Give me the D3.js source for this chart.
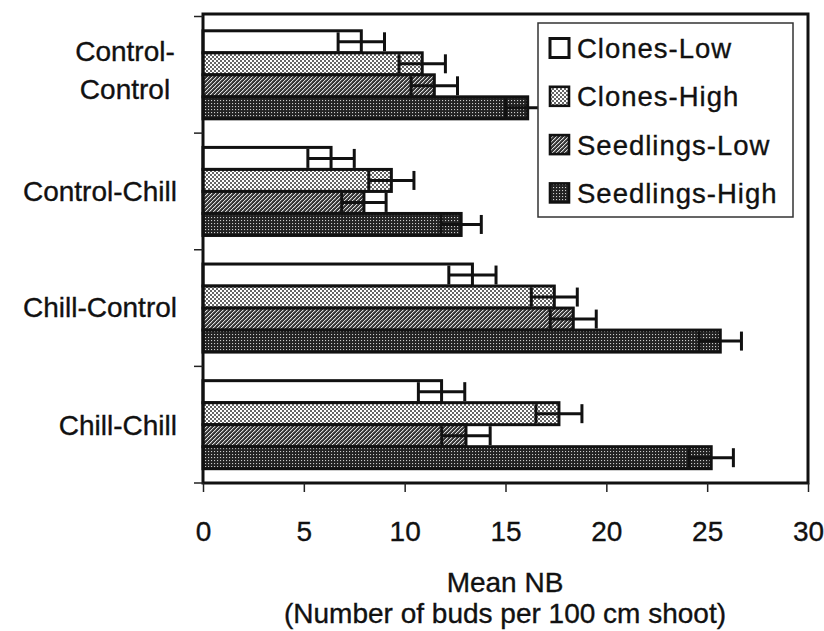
<!DOCTYPE html>
<html>
<head>
<meta charset="utf-8">
<script src="https://cdn.jsdelivr.net/npm/d3@7"></script>
<style>
  body { margin: 0; background: #fff; }
  text { font-family: "Liberation Sans", Arial, sans-serif; fill: #111; stroke: #111; stroke-width: 0.35px; }
</style>
</head>
<body>
<div id="chart"></div>
<script>
// Data
const categories = ["Control-Control", "Control-Chill", "Chill-Control", "Chill-Chill"];
const categoryLines = [["Control-", "Control"], ["Control-Chill"], ["Chill-Control"], ["Chill-Chill"]];
const series = ["Clones-Low", "Clones-High", "Seedlings-Low", "Seedlings-High"];

const clonesLow = [7.85, 6.35, 13.36, 11.83];
const clonesHigh = [10.87, 9.34, 17.42, 17.65];
const seedlingsLow = [11.47, 7.98, 18.36, 13.04];
const seedlingsHigh = [16.1, 12.8, 25.65, 25.2];

const clonesLowErr = [1.15, 1.15, 1.17, 1.15];
const clonesHighErr = [1.15, 1.12, 1.14, 1.14];
const seedlingsLowErr = [1.15, 1.1, 1.14, 1.2];
const seedlingsHighErr = [1.1, 1.0, 1.05, 1.1];

const xTicks = [0, 5, 10, 15, 20, 25, 30];

const values = [clonesLow, clonesHigh, seedlingsLow, seedlingsHigh];
const errors = [clonesLowErr, clonesHighErr, seedlingsLowErr, seedlingsHighErr];

const W = 824, H = 631;
const plot = { left: 203, right: 808, top: 16.5, bottom: 483, frameTop: 14 };

const svg = d3.select("#chart")
    .append("svg")
    .attr("width", W)
    .attr("height", H);

// fill patterns, one per series
const defs = svg.append("defs");

defs.append("pattern").attr("id", "p0")
    .attr("patternUnits", "userSpaceOnUse").attr("width", 4).attr("height", 4)
    .append("rect").attr("width", 4).attr("height", 4).attr("fill", "#fff");

const p1 = defs.append("pattern").attr("id", "p1")
    .attr("patternUnits", "userSpaceOnUse").attr("width", 4).attr("height", 4);
p1.append("rect").attr("width", 4).attr("height", 4).attr("fill", "#fff");
p1.append("rect").attr("width", 2).attr("height", 2).attr("fill", "#666");
p1.append("rect").attr("x", 2).attr("y", 2).attr("width", 2).attr("height", 2).attr("fill", "#666");

const p2 = defs.append("pattern").attr("id", "p2")
    .attr("patternUnits", "userSpaceOnUse").attr("width", 4).attr("height", 4);
p2.append("rect").attr("width", 4).attr("height", 4).attr("fill", "#333");
[[0, 0], [2, 2], [1, 3], [3, 1]].forEach(([a, b]) =>
    p2.append("rect").attr("x", a).attr("y", b).attr("width", 1.2).attr("height", 1.2).attr("fill", "#ddd"));

const p3 = defs.append("pattern").attr("id", "p3")
    .attr("patternUnits", "userSpaceOnUse").attr("width", 3).attr("height", 3);
p3.append("rect").attr("width", 3).attr("height", 3).attr("fill", "#222");
p3.append("rect").attr("x", 1).attr("y", 1).attr("width", 1.1).attr("height", 1.1).attr("fill", "#ccc");

// Scales
const x = d3.scaleLinear().domain([0, 30]).range([plot.left, plot.right]);

const y = d3.scaleBand()
    .domain(categories)
    .range([plot.top, plot.bottom])
    .paddingInner(0.245)
    .paddingOuter(0.1225);

const ySub = d3.scaleBand()
    .domain(series)
    .range([0, y.bandwidth()]);

// Bars
const barData = [];
categories.forEach((c, ci) => {
    series.forEach((s, si) => {
        barData.push({ cat: c, ser: s, si: si, v: values[si][ci], e: errors[si][ci] });
    });
});

svg.append("g")
    .selectAll("rect")
    .data(barData)
    .join("rect")
    .attr("x", x(0))
    .attr("y", d => y(d.cat) + ySub(d.ser))
    .attr("width", d => x(d.v) - x(0))
    .attr("height", ySub.bandwidth())
    .attr("fill", d => `url(#p${d.si})`)
    .attr("stroke", "#111")
    .attr("stroke-width", 3);

// Error bars
const err = svg.append("g")
    .attr("stroke", "#111")
    .attr("stroke-width", 3);

barData.forEach(d => {
    const cy = y(d.cat) + ySub(d.ser) + ySub.bandwidth() / 2;
    const x0 = x(d.v - d.e), x1 = x(d.v + d.e);
    const capH = 9.5;
    err.append("line").attr("x1", x0).attr("x2", x1).attr("y1", cy).attr("y2", cy);
    err.append("line").attr("x1", x0).attr("x2", x0).attr("y1", cy - capH).attr("y2", cy + capH);
    err.append("line").attr("x1", x1).attr("x2", x1).attr("y1", cy - capH).attr("y2", cy + capH);
});

// Frame
svg.append("rect")
    .attr("x", plot.left)
    .attr("y", plot.frameTop)
    .attr("width", plot.right - plot.left)
    .attr("height", plot.bottom - plot.frameTop)
    .attr("fill", "none")
    .attr("stroke", "#111")
    .attr("stroke-width", 3);

// x axis ticks and labels
const xAxis = svg.append("g")
    .attr("transform", `translate(0,${plot.bottom})`)
    .call(d3.axisBottom(x).tickValues(xTicks).tickSize(9).tickPadding(29).tickFormat(d3.format("d")));
xAxis.select(".domain").remove();
xAxis.selectAll(".tick line").attr("stroke", "#222").attr("stroke-width", 1.5);
xAxis.selectAll(".tick text")
    .style("font-family", '"Liberation Sans", Arial, sans-serif')
    .style("font-size", "28px")
    .attr("fill", "#111");

// y axis ticks at band boundaries
const step = (plot.bottom - plot.top) / categories.length;
const yBounds = d3.range(categories.length + 1).map(i => plot.top + i * step);
svg.append("g")
    .selectAll("line")
    .data(yBounds)
    .join("line")
    .attr("x1", plot.left - 9)
    .attr("x2", plot.left)
    .attr("y1", d => d)
    .attr("y2", d => d)
    .attr("stroke", "#222")
    .attr("stroke-width", 1.5);

// Category labels
const catG = svg.append("g")
    .style("font-size", "28px");
const baselineOffset = [0, 10, 9, 10];
categories.forEach((c, ci) => {
    const lines = categoryLines[ci];
    const cy = y(c) + y.bandwidth() / 2;
    if (lines.length === 1) {
        catG.append("text")
            .attr("x", 177)
            .attr("y", cy + baselineOffset[ci])
            .attr("text-anchor", "end")
            .text(lines[0]);
    } else {
        const t = catG.append("text").attr("text-anchor", "middle");
        lines.forEach((l, li) => {
            t.append("tspan")
                .attr("x", 125)
                .attr("y", cy - 14 + li * 38.5)
                .text(l);
        });
    }
});

// Axis title
const title = svg.append("text")
    .attr("text-anchor", "middle")
    .style("font-size", "28px");
title.append("tspan").attr("x", 505).attr("y", 592).text("Mean NB");
title.append("tspan").attr("x", 505).attr("y", 623).text("(Number of buds per 100 cm shoot)");

// Legend
const legend = svg.append("g");
legend.append("rect")
    .attr("x", 538)
    .attr("y", 23)
    .attr("width", 255)
    .attr("height", 194)
    .attr("fill", "#fff")
    .attr("stroke", "#333")
    .attr("stroke-width", 1.5);

series.forEach((s, si) => {
    const cy = 48 + si * 48.3;
    legend.append("rect")
        .attr("x", 550)
        .attr("y", cy - 9.5)
        .attr("width", 19)
        .attr("height", 19)
        .attr("fill", `url(#p${si})`)
        .attr("stroke", "#111")
        .attr("stroke-width", si === 0 ? 3 : 2.6);
    legend.append("text")
        .attr("x", 577)
        .attr("y", cy + 10)
        .style("font-size", "27.5px")
        .style("letter-spacing", "1px")
        .text(s);
});
</script>
</body>
</html>
